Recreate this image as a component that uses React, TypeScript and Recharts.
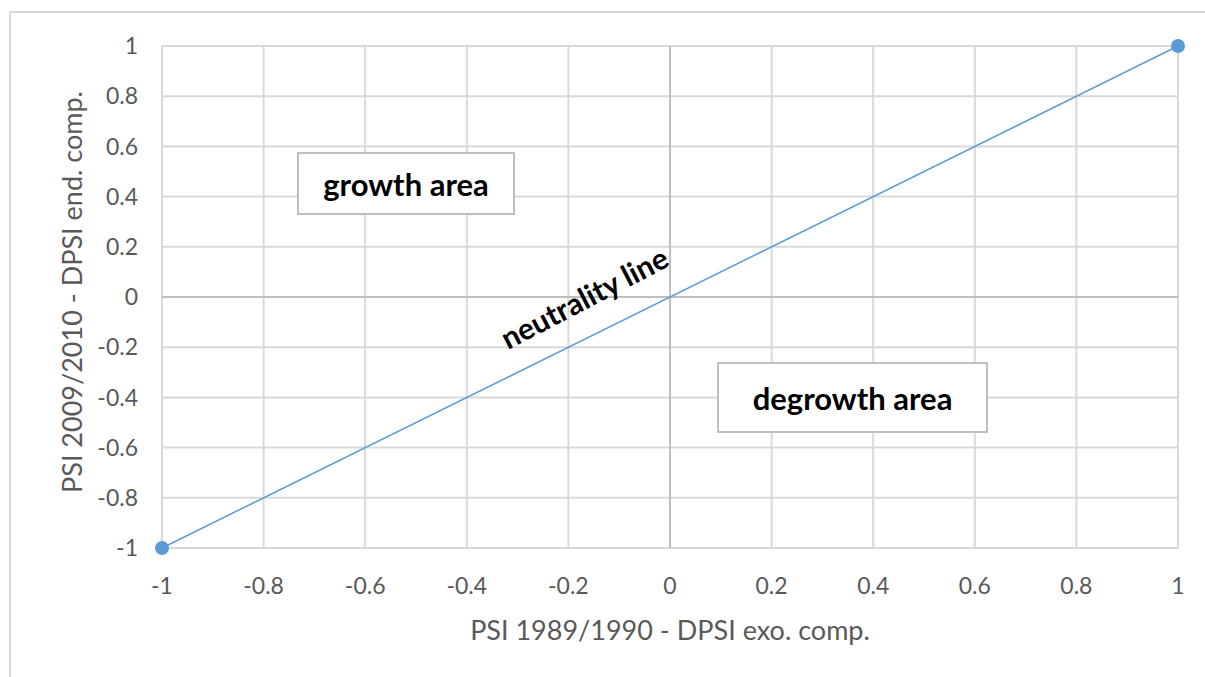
import {
  ScatterChart,
  Scatter,
  XAxis,
  YAxis,
  CartesianGrid,
  ReferenceLine,
  Label,
} from 'recharts';

const xTicks = [-1, -0.8, -0.6, -0.4, -0.2, 0, 0.2, 0.4, 0.6, 0.8, 1];
const yTicks = [-1, -0.8, -0.6, -0.4, -0.2, 0, 0.2, 0.4, 0.6, 0.8, 1];
const neutralityLine = [
  { x: -1, y: -1 },
  { x: 1, y: 1 },
];
const xTitle = 'PSI 1989/1990 - DPSI exo. comp.';
const yTitle = 'PSI 2009/2010 - DPSI end. comp.';

const FONT = 'Lato, "Noto Sans", sans-serif';
const TICK = { fill: '#595959', fontSize: 23, fontFamily: FONT };
const BLUE = '#5b9bd5';

const Dot = (props: any) => {
  const { cx, cy } = props;
  return <circle cx={cx} cy={cy} r={7} fill={BLUE} />;
};

const boxStyle: React.CSSProperties = {
  position: 'absolute',
  background: '#fff',
  border: '2px solid #bfbfbf',
  boxSizing: 'border-box',
  display: 'flex',
  alignItems: 'center',
  justifyContent: 'center',
  fontFamily: FONT,
  fontWeight: 700,
  fontSize: 31,
  color: '#000',
};

export default function App() {
  return (
    <div
      style={{
        position: 'absolute',
        left: 0,
        top: 0,
        width: 1205,
        height: 677,
        overflow: 'hidden',
        background: '#fff',
      }}
    >
      <div
        style={{
          position: 'absolute',
          left: 9,
          top: 11,
          width: 1300,
          height: 800,
          border: '2px solid #d9d9d9',
          boxSizing: 'border-box',
        }}
      />
      <ScatterChart
        width={1205}
        height={677}
        margin={{ top: 46, right: 27, bottom: 29, left: 52 }}
        style={{ position: 'absolute', left: 0, top: 0 }}
      >
        <CartesianGrid stroke="#d9d9d9" strokeWidth={2} horizontalValues={yTicks} verticalValues={xTicks} />
        <XAxis
          type="number"
          dataKey="x"
          domain={[-1, 1]}
          ticks={xTicks}
          axisLine={false}
          tickLine={false}
          tickSize={0}
          tickMargin={30}
          height={100}
          tick={TICK}
          interval={0}
        >
          <Label
            content={(p: any) => {
              const vb = p.viewBox;
              return (
                <text
                  x={vb.x + vb.width / 2}
                  y={vb.y + 92}
                  textAnchor="middle"
                  fill="#595959"
                  fontSize={27}
                  fontFamily={FONT}
                >
                  {xTitle}
                </text>
              );
            }}
          />
        </XAxis>
        <YAxis
          type="number"
          dataKey="y"
          domain={[-1, 1]}
          ticks={yTicks}
          axisLine={false}
          tickLine={false}
          tickSize={0}
          tickMargin={24}
          width={110}
          tick={TICK}
          interval={0}
        >
          <Label
            content={(p: any) => {
              const vb = p.viewBox;
              const cx = 71;
              const cy = vb.y + vb.height / 2 - 5;
              return (
                <text
                  x={cx}
                  y={cy}
                  textAnchor="middle"
                  dominantBaseline="central"
                  transform={`rotate(-90 ${cx} ${cy})`}
                  fill="#595959"
                  fontSize={27}
                  fontFamily={FONT}
                >
                  {yTitle}
                </text>
              );
            }}
          />
        </YAxis>
        <ReferenceLine x={0} stroke="#bfbfbf" strokeWidth={2} />
        <ReferenceLine y={0} stroke="#bfbfbf" strokeWidth={2} />
        <Scatter
          data={neutralityLine}
          line={{ stroke: BLUE, strokeWidth: 1.5 }}
          shape={<Dot />}
          isAnimationActive={false}
        />
      </ScatterChart>
      <div style={{ ...boxStyle, left: 297, top: 152, width: 218, height: 63 }}>growth area</div>
      <div style={{ ...boxStyle, left: 717, top: 362, width: 271, height: 71 }}>degrowth area</div>
      <div
        style={{
          position: 'absolute',
          left: 584,
          top: 297,
          transform: 'translate(-50%, -50%) rotate(-27.5deg)',
          fontFamily: FONT,
          fontWeight: 700,
          fontSize: 30,
          color: '#000',
          whiteSpace: 'nowrap',
        }}
      >
        neutrality line
      </div>
    </div>
  );
}
